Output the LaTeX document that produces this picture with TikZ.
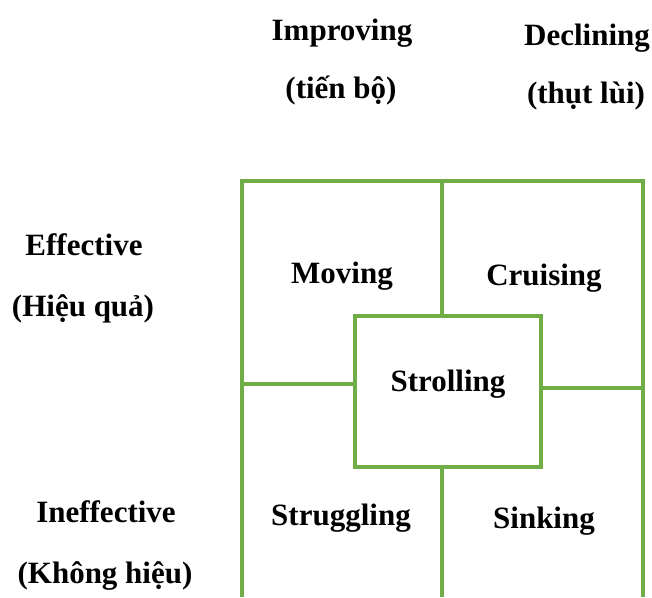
\documentclass[tikz,border=0pt]{standalone}
\usepackage{fontspec}
\setmainfont{Liberation Serif}
\definecolor{boxgreen}{HTML}{70AD47}
\tikzset{
  lbl/.style={anchor=base, font=\fontsize{31}{37}\selectfont\bfseries, inner sep=0pt},
  grid/.style={draw=boxgreen, line width=3.4pt}
}
\begin{document}
\begin{tikzpicture}[x=1pt, y=-1pt]
\useasboundingbox (0,0) rectangle (652,597);
% column heads
\node[lbl] (improving) at (342,40) {Improving};
\node[lbl] (tienbo) at (341,98) {(tiến bộ)};
\node[lbl] (declining) at (587,45) {Declining};
\node[lbl] (thutlui) at (586,103) {(thụt lùi)};
% row heads
\node[lbl] (effective) at (84,255) {Effective};
\node[lbl] (hieuqua) at (83,316) {(Hiệu quả)};
\node[lbl] (ineffective) at (106,522) {Ineffective};
\node[lbl] (khonghieu) at (105,583) {(Không hiệu)};
% grid
\draw[grid] (242,181) rectangle (442,384);
\draw[grid] (442,181) -- (643,181) -- (643,597);
\draw[grid] (541,388) -- (643,388);
\draw[grid] (242,384) -- (242,597);
\draw[grid] (442,467) -- (442,597);
\draw[grid, fill=white] (355,316) rectangle (541,467);
% cells
\node[lbl] (moving) at (342,283) {Moving};
\node[lbl] (cruising) at (544,285) {Cruising};
\node[lbl] (strolling) at (448,391) {Strolling};
\node[lbl] (struggling) at (341,525) {Struggling};
\node[lbl] (sinking) at (544,528) {Sinking};

\end{tikzpicture}
\end{document}
